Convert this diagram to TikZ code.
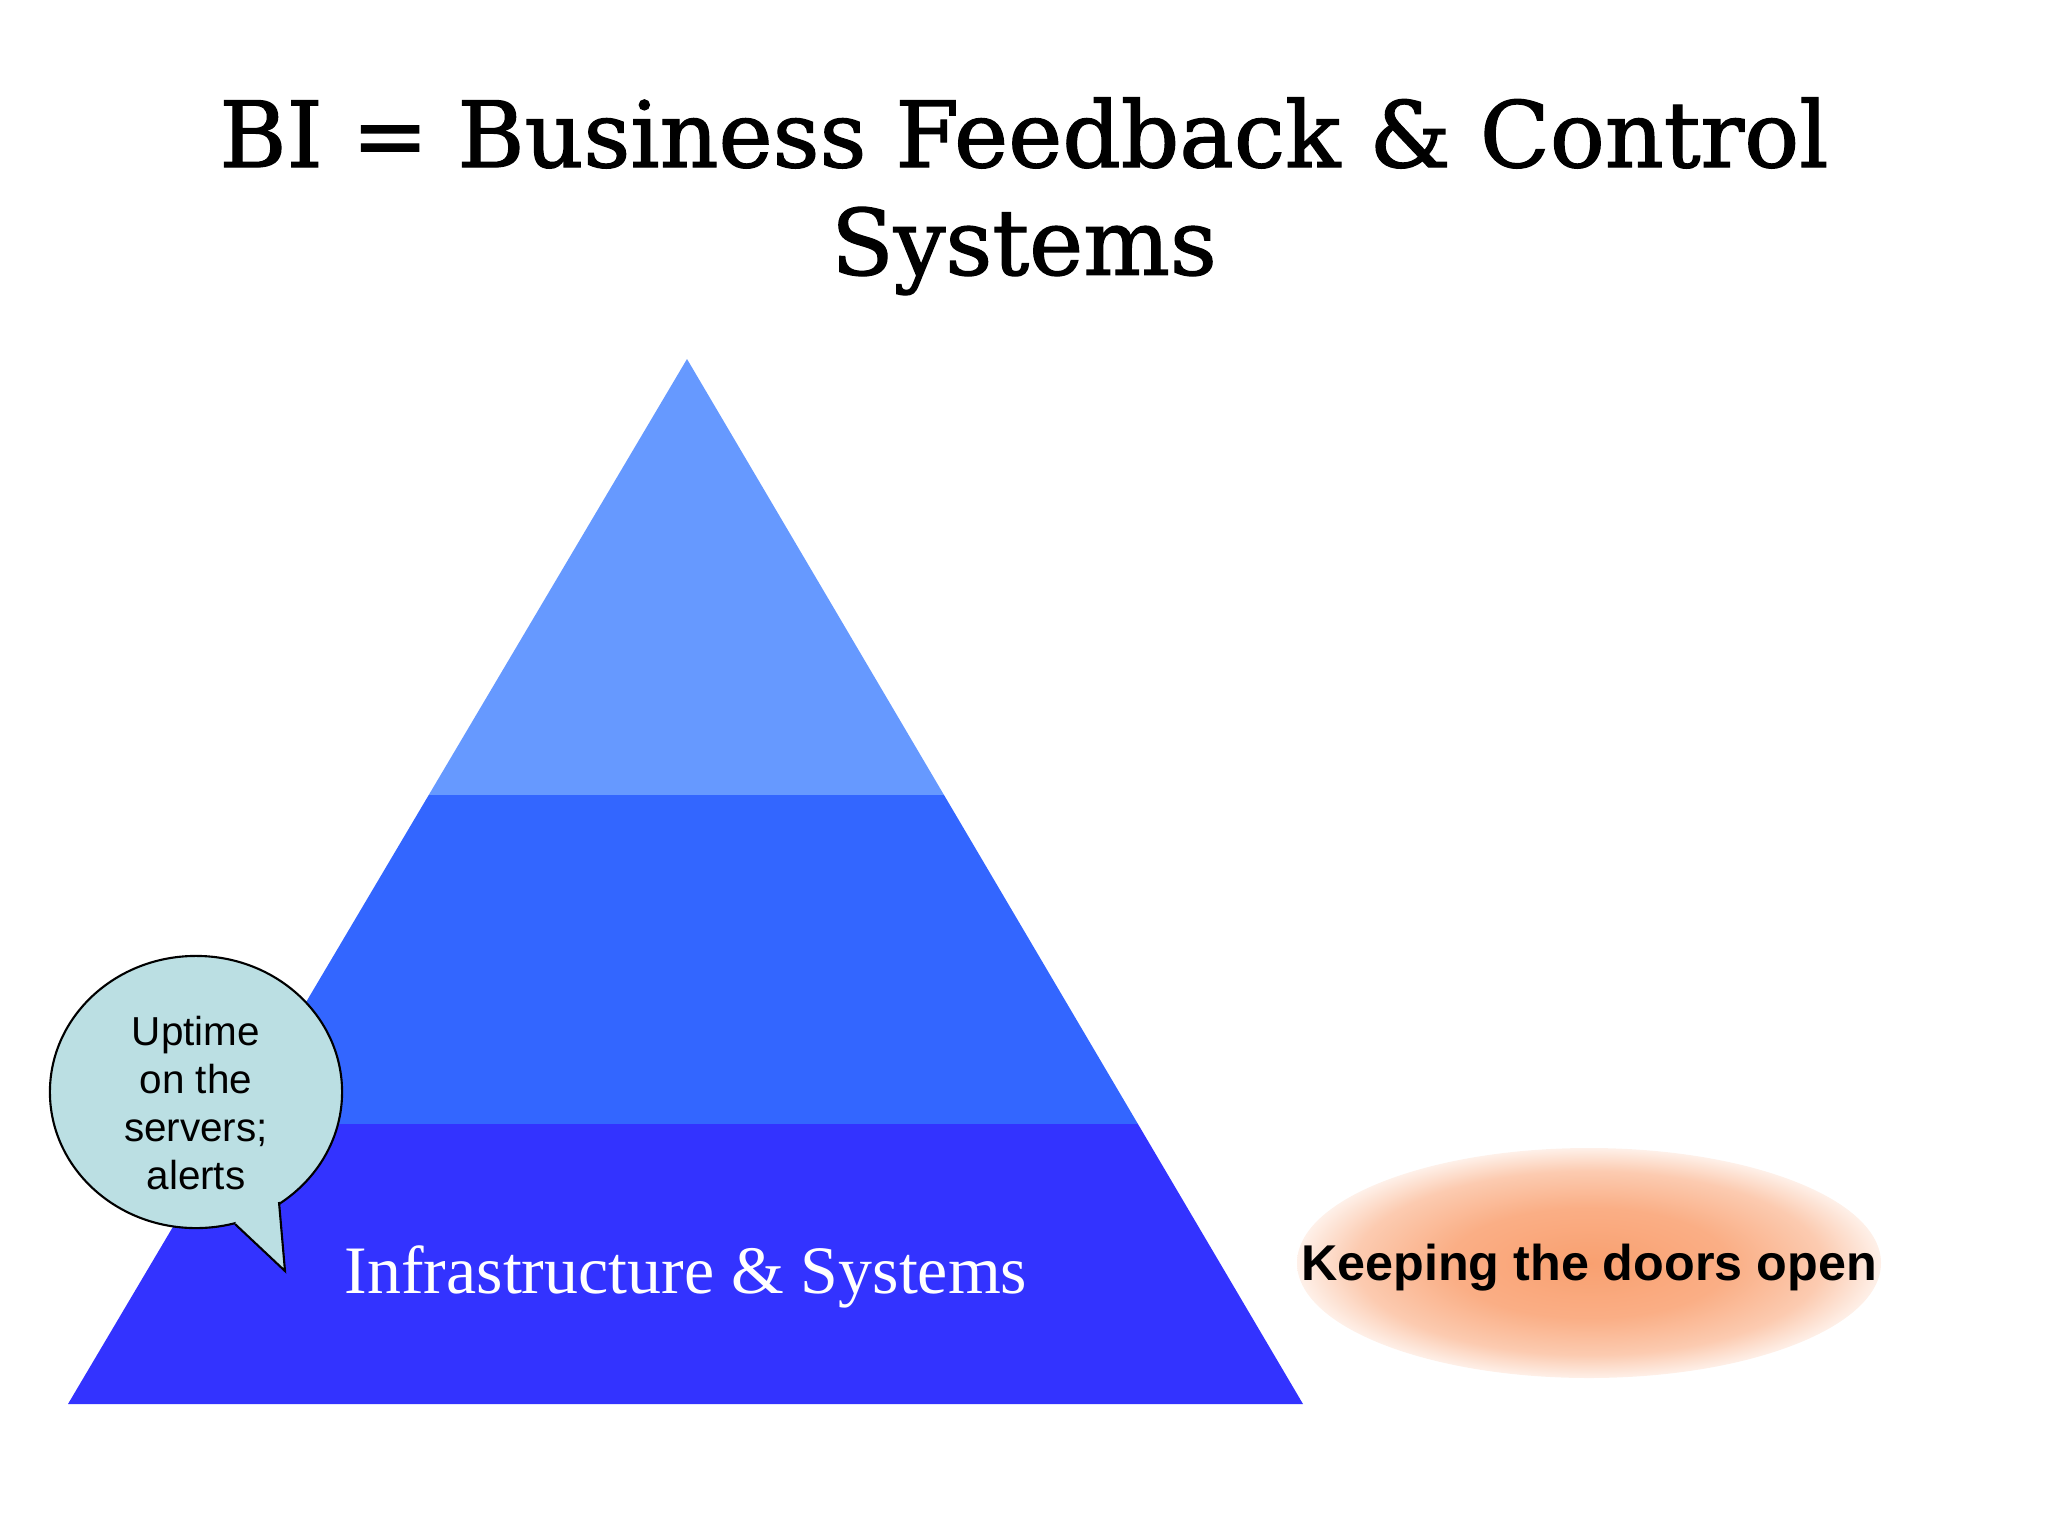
\documentclass[tikz,border=0pt]{standalone}
\usepackage{fontspec}
\setmainfont{Liberation Sans}
\newfontfamily\titlefont[FakeBold=1.4]{DejaVu Serif}
\newfontfamily\timesfont{Liberation Serif}
\usetikzlibrary{calc,shapes.geometric}

\definecolor{glow}{RGB}{249,160,112}
\pgfdeclareradialshading{glowshade}{\pgfpoint{0bp}{0bp}}{%
    color(0bp)=(glow); color(12bp)=(glow!85!white);
    color(20bp)=(glow!55!white); color(27bp)=(white); color(70bp)=(white)}

\begin{document}
\begin{tikzpicture}[x=0.01cm,y=-0.01cm]

    % Farben
    \definecolor{tiertop}{RGB}{102,153,255}
    \definecolor{tiermid}{RGB}{51,102,255}
    \definecolor{tierlow}{RGB}{51,51,255}
    \definecolor{bubblefill}{RGB}{187,223,227}

    % Rahmen
    \useasboundingbox (0,0) rectangle (2048,1536);

    % Eckpunkte der Pyramide
    \coordinate (apex) at (687,359);
    \coordinate (bl) at (68,1404);
    \coordinate (br) at (1303,1404);
    \def\tA{0.583}
    \def\tB{0.268}

    % Ebenen
    \fill[tierlow] (bl) -- (br) -- ($(br)!\tB!(apex)$) -- ($(bl)!\tB!(apex)$) -- cycle;
    \fill[tiermid] ($(bl)!\tB!(apex)$) -- ($(br)!\tB!(apex)$)
        -- ($(br)!\tA!(apex)$) -- ($(bl)!\tA!(apex)$) -- cycle;
    \fill[tiertop] ($(bl)!\tA!(apex)$) -- ($(br)!\tA!(apex)$) -- (apex) -- cycle;

    % Titel
    \node[font=\titlefont\fontsize{26}{28}\selectfont] (title1) at (1024,133)
        {BI = Business Feedback \& Control};
    \node[font=\titlefont\fontsize{26}{28}\selectfont] (title2) at (1024,251)
        {Systems};

    % Unterste Ebene
    \node[text=white, font=\timesfont\fontsize{19.3}{21}\selectfont] (infra) at (686,1277)
        {Infrastructure \& Systems};

    % Sprechblase
    \node[ellipse, draw, fill=bubblefill, line width=0.6pt, inner sep=0pt,
          minimum width=2.92cm, minimum height=2.72cm] (bubble) at (196,1092) {};
    \coordinate (tailL) at (235,1224);
    \coordinate (tailR) at (279,1202);
    \coordinate (tailtip) at (285,1271);
    \fill[bubblefill] (tailL) -- (tailtip) -- (tailR) -- (250,1190) -- cycle;
    \draw[line width=0.6pt] (tailL) -- (tailtip) -- (tailR);
    \node[align=center, font=\fontsize{11.5}{13.7}\selectfont] (uptime) at (196,1103)
        {Uptime\\on the\\servers;\\alerts};

    % Leuchtende Ellipse rechts
    \shade[shading=glowshade]
        (1589,1263) ellipse [x radius=292, y radius=115];
    \node[font=\bfseries\fontsize{14.3}{16}\selectfont] (doors) at (1589,1268)
        {Keeping the doors open};

\end{tikzpicture}
\end{document}
